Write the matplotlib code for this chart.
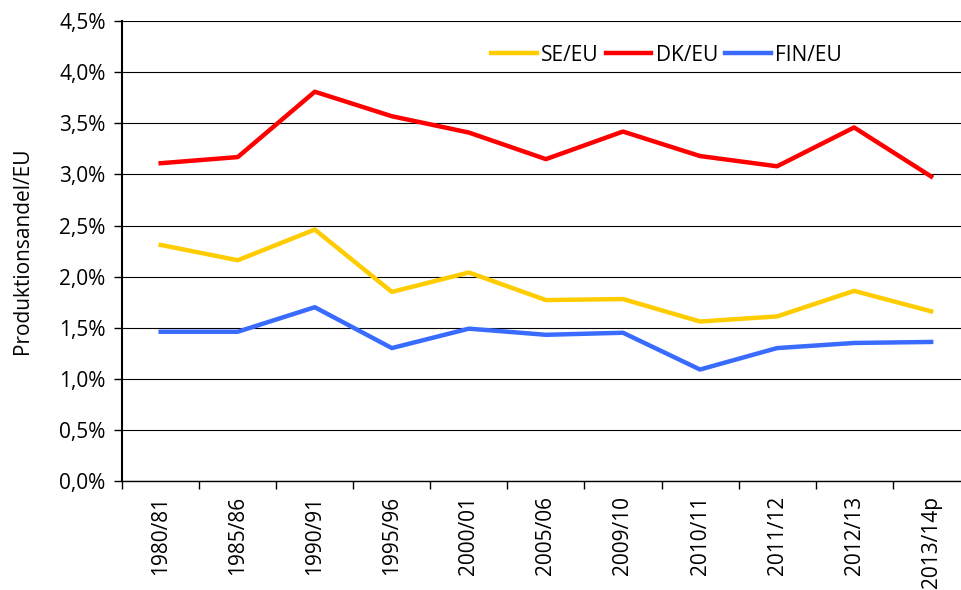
import matplotlib.pyplot as plt
from matplotlib.ticker import FuncFormatter, FixedLocator

plt.rcParams['font.family'] = ['Open Sans', 'DejaVu Sans']

years = ['1980/81', '1985/86', '1990/91', '1995/96', '2000/01', '2005/06',
         '2009/10', '2010/11', '2011/12', '2012/13', '2013/14p']
se_eu = [2.31, 2.16, 2.46, 1.85, 2.04, 1.77, 1.78, 1.56, 1.61, 1.86, 1.66]
dk_eu = [3.11, 3.17, 3.81, 3.57, 3.41, 3.15, 3.42, 3.18, 3.08, 3.46, 2.98]
fin_eu = [1.46, 1.46, 1.70, 1.30, 1.49, 1.43, 1.45, 1.09, 1.30, 1.35, 1.36]

fig, ax = plt.subplots(figsize=(9.62, 5.9), dpi=100)
fig.subplots_adjust(left=0.127, right=1.008, top=0.964, bottom=0.185)

x = range(len(years))
ax.plot(x, se_eu, color='#FFCC00', lw=3.2, label='SE/EU')
ax.plot(x, dk_eu, color='#FF0000', lw=3.2, label='DK/EU')
ax.plot(x, fin_eu, color='#3A6BFF', lw=3.2, label='FIN/EU')

ax.set_xlim(-0.5, len(years) - 0.5)
ax.set_ylim(0, 4.5)
ax.set_yticks([i * 0.5 for i in range(10)])
ax.yaxis.set_major_formatter(FuncFormatter(lambda v, p: f"{v:.1f}%".replace('.', ',')))
ax.grid(axis='y', color='black', lw=0.8)
ax.set_axisbelow(True)

# category labels sit between the tick marks
ax.set_xticks(list(x))
ax.set_xticklabels(years, rotation=90, fontsize=15)
ax.tick_params(axis='x', which='major', length=0, pad=11)
ax.xaxis.set_minor_locator(FixedLocator([i - 0.5 for i in range(len(years) + 1)]))
ax.tick_params(axis='x', which='minor', length=6, width=1)
ax.tick_params(axis='y', labelsize=15, length=6, width=1, pad=6)

for s in ['top', 'right']:
    ax.spines[s].set_visible(False)
ax.spines['left'].set_linewidth(1.5)
ax.spines['bottom'].set_linewidth(1)

ax.set_ylabel('Produktionsandel/EU', fontsize=15, labelpad=19)

ax.legend(loc='upper center', bbox_to_anchor=(0.642, 0.99), ncol=3, frameon=False,
          fontsize=15, handlelength=2.2, handletextpad=0.2, columnspacing=0.35)

plt.savefig('out.png')
